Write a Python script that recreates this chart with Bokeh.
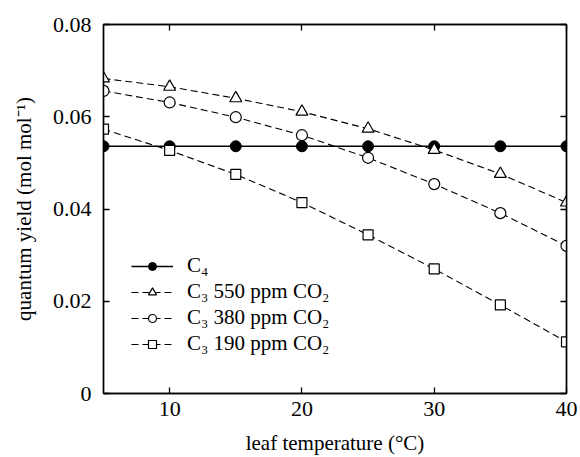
from bokeh.plotting import figure
from bokeh.models import Range1d, LinearAxis, Legend, LegendItem, FixedTicker
from bokeh.embed import file_html
from bokeh.resources import INLINE

temps = [5, 10, 15, 20, 25, 30, 35, 40]
c4 = [0.0536] * 8
c3_550 = [0.0683, 0.0665, 0.0640, 0.0611, 0.0574, 0.0528, 0.0476, 0.0414]
c3_380 = [0.0656, 0.0631, 0.0599, 0.0560, 0.0511, 0.0454, 0.0391, 0.0320]
c3_190 = [0.0573, 0.0527, 0.0475, 0.0414, 0.0344, 0.0270, 0.0192, 0.0112]
x_ticks = [10, 20, 30, 40]
y_ticks = [0, 0.02, 0.04, 0.06, 0.08]
labels = ["C\u2084", "C\u2083 550 ppm CO\u2082", "C\u2083 380 ppm CO\u2082", "C\u2083 190 ppm CO\u2082"]

FONT = "Liberation Serif"

p = figure(width=580, height=457, output_backend="svg", toolbar_location=None,
           x_range=Range1d(5, 40), y_range=Range1d(0, 0.08),
           min_border_left=103, min_border_right=14, min_border_top=24, min_border_bottom=64,
           x_axis_label="leaf temperature (\u00b0C)", y_axis_label="quantum yield (mol mol\u207b\u00b9)")
p.grid.visible = False
p.outline_line_color = "black"
p.outline_line_width = 1.4
p.background_fill_color = "white"
p.border_fill_color = "white"

bottom = p.below[0]
left = p.left[0]
bottom.ticker = FixedTicker(ticks=x_ticks)
left.ticker = FixedTicker(ticks=y_ticks)
left.major_label_overrides = {0: "0", 0.02: "0.02", 0.04: "0.04", 0.06: "0.06", 0.08: "0.08"}

top = LinearAxis(ticker=FixedTicker(ticks=x_ticks))
right = LinearAxis(ticker=FixedTicker(ticks=y_ticks))
top.major_label_overrides = {t: "" for t in x_ticks}
right.major_label_overrides = {t: "" for t in y_ticks}
for ax in [top, right]:
    ax.major_label_standoff = 0
    ax.major_label_text_font_size = "1px"
p.add_layout(top, "above")
p.add_layout(right, "right")

for ax in [bottom, left, top, right]:
    ax.major_tick_in = 6
    ax.major_tick_out = 0
    ax.minor_tick_in = 0
    ax.minor_tick_out = 0
    ax.axis_line_color = "black"
    ax.axis_line_width = 1.4
    ax.major_tick_line_color = "black"
    ax.major_tick_line_width = 1.3
    ax.major_label_text_font = FONT
    ax.axis_label_text_font = FONT
    ax.axis_label_text_font_style = "normal"
    ax.axis_label_text_color = "black"
    ax.major_label_text_color = "black"

for ax in [bottom, left]:
    ax.major_label_text_font_size = "22px"
    ax.axis_label_text_font_size = "21px"
bottom.major_label_standoff = 8
left.major_label_standoff = 12
bottom.axis_label_standoff = 12
left.axis_label_standoff = 14

dash = "7 4"
l0 = p.line(temps, c4, line_color="black", line_width=1.4)
m0 = p.scatter(temps, c4, marker="circle", size=11, fill_color="black", line_color="black")
l1 = p.line(temps, c3_550, line_color="black", line_width=1.1, line_dash=dash)
m1 = p.scatter(temps, c3_550, marker="triangle", size=12, fill_color="white", line_color="black", line_width=1.2)
l2 = p.line(temps, c3_380, line_color="black", line_width=1.1, line_dash=dash)
m2 = p.scatter(temps, c3_380, marker="circle", size=11, fill_color="white", line_color="black", line_width=1.2)
l3 = p.line(temps, c3_190, line_color="black", line_width=1.1, line_dash=dash)
m3 = p.scatter(temps, c3_190, marker="square", size=10, fill_color="white", line_color="black", line_width=1.2)

legend = Legend(items=[
    LegendItem(label=labels[0], renderers=[l0, m0]),
    LegendItem(label=labels[1], renderers=[l1, m1]),
    LegendItem(label=labels[2], renderers=[l2, m2]),
    LegendItem(label=labels[3], renderers=[l3, m3]),
], location=(28, 37))
legend.border_line_color = None
legend.background_fill_alpha = 0
legend.label_text_font = FONT
legend.label_text_font_size = "21px"
legend.label_text_color = "black"
legend.glyph_width = 42
legend.glyph_height = 20
legend.label_height = 20
legend.spacing = 1
legend.label_standoff = 14
legend.padding = 4
p.add_layout(legend, "center")

open("out.html", "w").write(file_html(p, INLINE))
